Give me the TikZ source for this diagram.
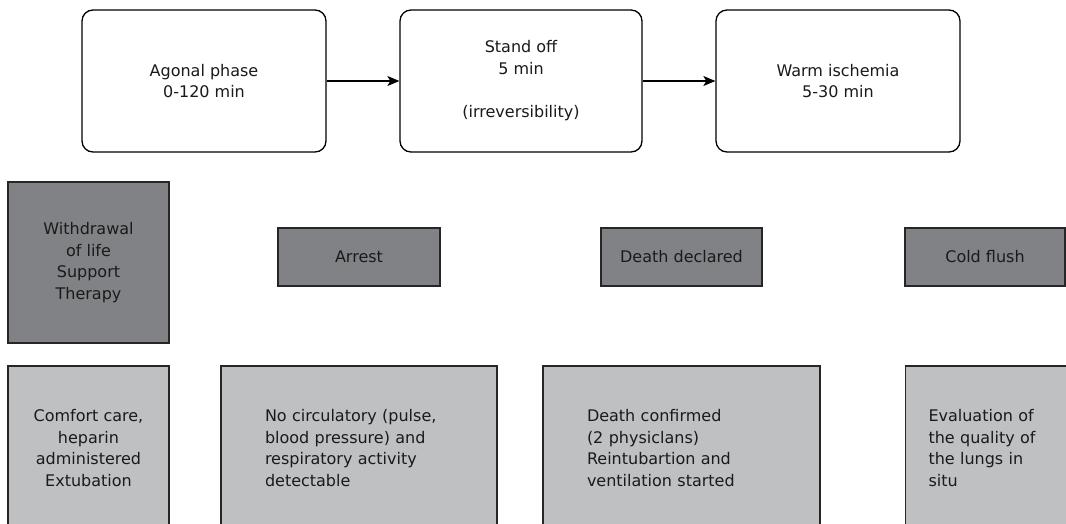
\documentclass[tikz,border=0pt]{standalone}
\usepackage{fontspec}
\setmainfont{DejaVu Sans}
\usetikzlibrary{arrows.meta}
\definecolor{darkbox}{RGB}{129,130,134}
\definecolor{lightbox}{RGB}{191,192,194}
\definecolor{ink}{RGB}{26,26,26}
\begin{document}
\begin{tikzpicture}[x=1pt,y=-1pt,
  txt/.style={font=\fontsize{16}{21.7}\selectfont, text=ink},
  phase/.style={txt, draw=black, line width=1.3pt, rounded corners=11pt, fill=white,
    minimum height=142pt, align=center, inner sep=0pt},
  event/.style={txt, draw=black!85, line width=1.3pt, fill=darkbox, align=center, inner sep=0pt},
  detail/.style={txt, draw=black!85, line width=1.3pt, fill=lightbox, minimum height=164pt, inner sep=0pt},
  flow/.style={line width=1.1pt, -{Stealth[length=12pt,width=10pt,inset=3pt]}}
]
\clip (0,0) rectangle (1066,524);
\fill[white] (0,0) rectangle (1066,524);

% top row
\node[phase, minimum width=244pt] (agonal) at (204,81) {Agonal phase\\0-120 min};
\node[phase, minimum width=242pt] (standoff) at (521,81) {Stand off\\5 min\\[21.7pt](irreversibility)};
\node[phase, minimum width=244pt] (warm) at (838,81) {Warm ischemia\\5-30 min};
\draw[flow] (agonal) -- (standoff);
\draw[flow] (standoff) -- (warm);

% middle row
\node[event, minimum width=161pt, minimum height=161pt] (wlst) at (88.5,262.5) {Withdrawal\\of life\\Support\\Therapy};
\node[event, minimum width=162pt, minimum height=58pt] (arrest) at (359,257) {Arrest};
\node[event, minimum width=161pt, minimum height=58pt] (declared) at (681.5,257) {Death declared};
\node[event, minimum width=160pt, minimum height=58pt] (flush) at (985,257) {Cold flush};

% bottom row
\node[detail, minimum width=161pt, align=center] (comfort) at (88.5,448) {Comfort care,\\heparin\\administered\\Extubation};
\node[detail, minimum width=276pt, text width=188pt, align=left] (nocirc) at (359,448) {No circulatory (pulse,\\blood pressure) and\\respiratory activity\\detectable};
\node[detail, minimum width=277pt, text width=189pt, align=left] (confirmed) at (681.5,448) {Death confirmed\\(2 physiclans)\\Reintubartion and\\ventilation started};
\node[detail, minimum width=161pt, text width=115pt, align=left] (evaluation) at (986,448) {Evaluation of\\the quality of\\the lungs in\\situ};
\end{tikzpicture}
\end{document}
